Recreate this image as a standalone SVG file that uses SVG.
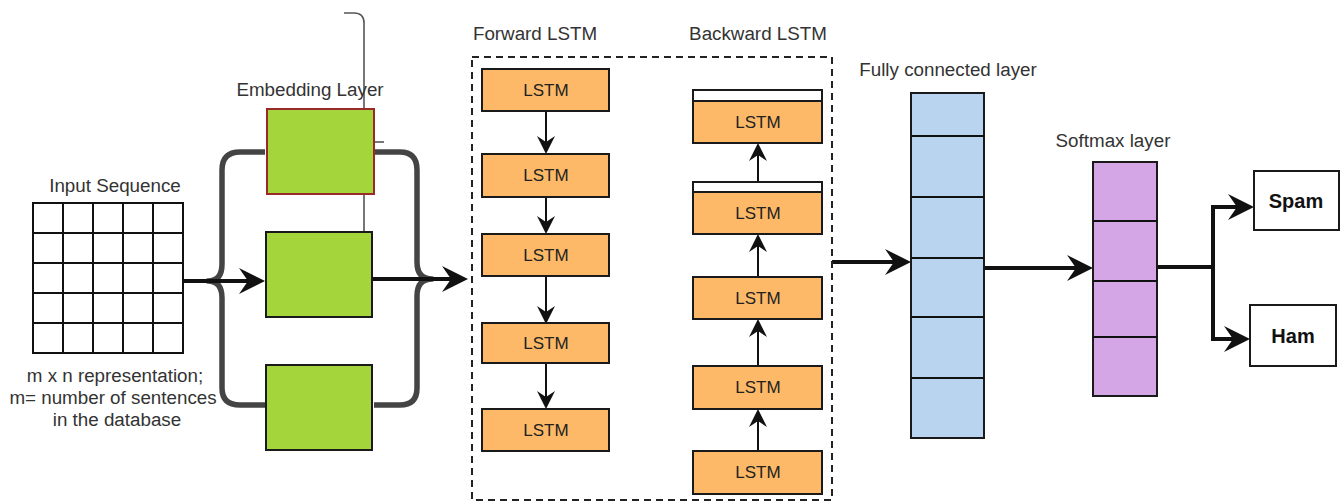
<svg xmlns="http://www.w3.org/2000/svg" width="1341" height="502" viewBox="0 0 1341 502">
<style>
.lbl{font-family:"Liberation Sans",Arial,sans-serif;font-size:18.8px;fill:#333;text-anchor:middle}
.lstm{font-family:"Liberation Sans",Arial,sans-serif;font-size:17px;fill:#222;text-anchor:middle}
.out{font-family:"Liberation Sans",Arial,sans-serif;font-size:20px;font-weight:bold;fill:#111;text-anchor:middle}
.emb{fill:#a4d53a;stroke:#1a1a1a;stroke-width:2}
.orng{fill:#fdb967;stroke:#1a1a1a;stroke-width:2}
.wht{fill:#fff;stroke:#1a1a1a;stroke-width:2}
.fc{fill:#b9d4ee;stroke:#1a1a1a;stroke-width:2}
.sm{fill:#d5a6e6;stroke:#1a1a1a;stroke-width:2}
.thick{fill:none;stroke:#111;stroke-width:4}
.thin{fill:none;stroke:#111;stroke-width:2}
.brace{fill:none;stroke:#444;stroke-width:5.5;stroke-linejoin:round}
.grid{fill:none;stroke:#111;stroke-width:2}
</style>
<defs>
<marker id="ah" viewBox="0 0 26 26" markerWidth="26" markerHeight="26" markerUnits="userSpaceOnUse" refX="12" refY="13" orient="auto">
<path d="M0,0 L26,13 L0,26 L9,13 Z" fill="#111"/>
</marker>
<marker id="as" viewBox="0 0 18 18" markerWidth="18" markerHeight="18" markerUnits="userSpaceOnUse" refX="8" refY="9" orient="auto">
<path d="M0,0 L18,9 L0,18 L6,9 Z" fill="#111"/>
</marker>
</defs>

<!-- stray thin line behind embedding boxes -->
<path d="M344 13 L354 13 Q364 13 364 23 L364 232" fill="none" stroke="#555" stroke-width="1.6"/>
<path d="M374 142 L384 142" fill="none" stroke="#555" stroke-width="1.6"/>

<g id="input">
<text class="lbl" x="115" y="192">Input Sequence</text>
<rect class="grid" x="33" y="203" width="150" height="150"/>
<path class="grid" d="M63 203V353M93 203V353M123 203V353M153 203V353M33 233H183M33 263H183M33 293H183M33 323H183"/>
<text class="lbl" x="115" y="382">m x n representation;</text>
<text class="lbl" x="113" y="404">m= number of sentences</text>
<text class="lbl" x="117" y="426">in the database</text>
</g>

<g id="connectors">
<path class="brace" d="M265 152 L240 152 Q222 152 222 170 L222 264 Q222 281 208 281 Q222 281 222 298 L222 388 Q222 405 240 405 L265 405"/>
<path class="brace" d="M374 152 L400 152 Q417 152 417 170 L417 262 Q417 279 432 279 Q417 279 417 296 L417 388 Q417 405 400 405 L374 405"/>
<path class="thick" d="M182 281 L251 281" marker-end="url(#ah)"/>
<path class="thick" d="M373 279 L454 279" marker-end="url(#ah)"/>
<path class="thin" d="M546 111 L546 144" marker-end="url(#as)"/>
<path class="thin" d="M546 197 L546 224" marker-end="url(#as)"/>
<path class="thin" d="M546 276 L546 314" marker-end="url(#as)"/>
<path class="thin" d="M546 363 L546 399" marker-end="url(#as)"/>
<path class="thin" d="M758 451 L758 419" marker-end="url(#as)"/>
<path class="thin" d="M758 366 L758 329" marker-end="url(#as)"/>
<path class="thin" d="M758 277 L758 244" marker-end="url(#as)"/>
<path class="thin" d="M758 182 L758 153" marker-end="url(#as)"/>
<path class="thick" d="M832 262 L897 262" marker-end="url(#ah)"/>
<path class="thick" d="M984 268 L1079 268" marker-end="url(#ah)"/>
<path class="thick" d="M1157 267 L1213 267 L1213 207 L1240 207" marker-end="url(#ah)"/>
<path class="thick" d="M1213 267 L1213 339 L1236 339" marker-end="url(#ah)"/>
</g>

<g id="embedding">
<text class="lbl" x="310" y="96">Embedding Layer</text>
<rect class="emb" x="267" y="109" width="107" height="85" style="stroke:#9a2a2a"/>
<rect class="emb" x="266" y="232" width="106" height="85"/>
<rect class="emb" x="266" y="365" width="106" height="85"/>
</g>

<g id="bilstm">
<rect x="472" y="57" width="360" height="443" fill="none" stroke="#222" stroke-width="2" stroke-dasharray="7 5"/>
<text class="lbl" x="535" y="40">Forward LSTM</text>
<text class="lbl" x="758" y="40">Backward LSTM</text>
</g>

<g id="forward">
<rect class="orng" x="482" y="69" width="127" height="42"/><text class="lstm" x="546" y="96">LSTM</text>
<rect class="orng" x="482" y="154" width="127" height="43"/><text class="lstm" x="546" y="181">LSTM</text>
<rect class="orng" x="482" y="234" width="127" height="42"/><text class="lstm" x="546" y="261">LSTM</text>
<rect class="orng" x="482" y="323" width="127" height="40"/><text class="lstm" x="546" y="349">LSTM</text>
<rect class="orng" x="482" y="409" width="127" height="42"/><text class="lstm" x="546" y="436">LSTM</text>
</g>

<g id="backward">
<rect class="wht" x="693" y="90" width="129" height="11"/>
<rect class="orng" x="693" y="101" width="129" height="42"/><text class="lstm" x="758" y="128">LSTM</text>
<rect class="wht" x="693" y="182" width="129" height="10"/>
<rect class="orng" x="693" y="192" width="129" height="42"/><text class="lstm" x="758" y="219">LSTM</text>
<rect class="orng" x="693" y="277" width="129" height="42"/><text class="lstm" x="758" y="304">LSTM</text>
<rect class="orng" x="693" y="366" width="129" height="43"/><text class="lstm" x="758" y="393">LSTM</text>
<rect class="orng" x="693" y="451" width="129" height="43"/><text class="lstm" x="758" y="478">LSTM</text>
</g>

<g id="fully-connected">
<text class="lbl" x="948" y="76">Fully connected layer</text>
<rect class="fc" x="911" y="93" width="73" height="345"/>
<path class="grid" d="M911 136H984M911 197H984M911 258H984M911 317H984M911 378H984"/>
</g>

<g id="softmax">
<text class="lbl" x="1113" y="147">Softmax layer</text>
<rect class="sm" x="1093" y="162" width="64" height="234"/>
<path class="grid" d="M1093 221H1157M1093 281H1157M1093 337H1157"/>
</g>

<g id="spam">
<rect class="wht" x="1254" y="171" width="85" height="59"/>
<text class="out" x="1296" y="208">Spam</text>
</g>
<g id="ham">
<rect class="wht" x="1250" y="305" width="86" height="61"/>
<text class="out" x="1293" y="343">Ham</text>
</g>
</svg>
